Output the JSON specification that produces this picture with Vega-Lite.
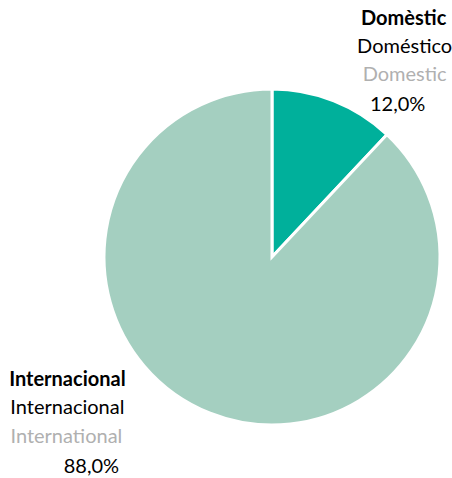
{
  "$schema": "https://vega.github.io/schema/vega-lite/v6.json",
  "autosize": {"type": "none"},
  "width": 336,
  "height": 336,
  "padding": {"left": 104, "top": 89, "right": 12, "bottom": 53},
  "background": "white",
  "config": {
    "view": {"stroke": null},
    "locale": {
      "number": {"decimal": ",", "thousands": ".", "grouping": [3], "currency": ["", " €"]}
    },
    "text": {"font": "Lato", "fontSize": 20}
  },
  "data": {
    "values": [
      {"cat": "Domèstic", "es": "Doméstico", "en": "Domestic", "share": 0.12},
      {"cat": "Internacional", "es": "Internacional", "en": "International", "share": 0.88}
    ]
  },
  "encoding": {
    "theta": {"field": "share", "type": "quantitative", "stack": true}
  },
  "layer": [
    {
      "mark": {"type": "arc", "outerRadius": 168, "stroke": "white", "strokeWidth": 3},
      "encoding": {
        "color": {
          "field": "cat",
          "type": "nominal",
          "scale": {"domain": ["Domèstic", "Internacional"], "range": ["#00B09B", "#A4CFC0"]},
          "legend": null
        }
      }
    },
    {
      "mark": {
        "type": "text", "radius": 200, "align": "center", "baseline": "alphabetic",
        "fontWeight": "bold", "color": "#000000",
        "dx": {"expr": "datum.cat === 'Domèstic' ? 58 : -131"},
        "dy": {"expr": "datum.cat === 'Domèstic' ? -46 : -57"}
      },
      "encoding": {"text": {"field": "cat"}}
    },
    {
      "mark": {
        "type": "text", "radius": 200, "align": "center", "baseline": "alphabetic",
        "color": "#000000",
        "dx": {"expr": "datum.cat === 'Domèstic' ? 59 : -131"},
        "dy": {"expr": "datum.cat === 'Domèstic' ? -18 : -29"}
      },
      "encoding": {"text": {"field": "es"}}
    },
    {
      "mark": {
        "type": "text", "radius": 200, "align": "center", "baseline": "alphabetic",
        "color": "#B0B0B0",
        "dx": {"expr": "datum.cat === 'Domèstic' ? 59 : -132"},
        "dy": {"expr": "datum.cat === 'Domèstic' ? 10 : 0"}
      },
      "encoding": {"text": {"field": "en"}}
    },
    {
      "mark": {
        "type": "text", "radius": 200, "align": "center", "baseline": "alphabetic",
        "color": "#000000",
        "dx": {"expr": "datum.cat === 'Domèstic' ? 52 : -107"},
        "dy": {"expr": "datum.cat === 'Domèstic' ? 40 : 30"}
      },
      "encoding": {"text": {"field": "share", "type": "quantitative", "format": ".1%"}}
    }
  ]
}
